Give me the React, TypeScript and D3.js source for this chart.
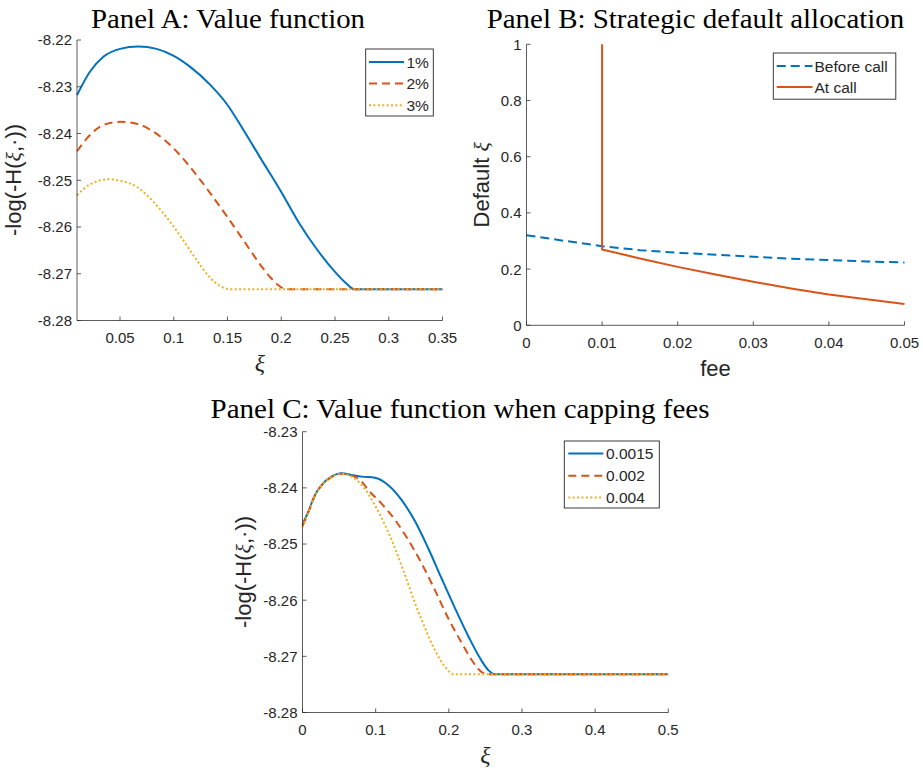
import React from 'react';
import * as d3 from 'd3';

// ---------- Panel A data ----------
const aX1 = [0.01, 0.022, 0.0345, 0.05, 0.067, 0.084, 0.1, 0.115, 0.134, 0.15, 0.165, 0.18, 0.2, 0.217, 0.2326, 0.25, 0.2606, 0.268, 0.35];
const aY1 = [-8.2318, -8.2268, -8.2236, -8.2219, -8.2214, -8.2219, -8.2234, -8.2257, -8.2296, -8.2339, -8.2393, -8.245, -8.2525, -8.2593, -8.2646, -8.2696, -8.2721, -8.2733, -8.2733];
const aX2 = [0.01, 0.019, 0.0345, 0.05, 0.0655, 0.081, 0.1, 0.115, 0.1308, 0.15, 0.168, 0.18, 0.19, 0.2, 0.204, 0.35];
const aY2 = [-8.2438, -8.2411, -8.2382, -8.2375, -8.2379, -8.2396, -8.2432, -8.2471, -8.2518, -8.2579, -8.2639, -8.2679, -8.2708, -8.2729, -8.2733, -8.2733];
const aX3 = [0.01, 0.022, 0.04, 0.05, 0.0655, 0.081, 0.0966, 0.109, 0.1214, 0.134, 0.143, 0.153, 0.35];
const aY3 = [-8.2532, -8.2509, -8.2498, -8.2501, -8.2514, -8.2546, -8.2589, -8.2629, -8.2671, -8.2709, -8.2726, -8.2733, -8.2733];
const aNames = ['1%', '2%', '3%'];
const aXTicks = [0.05, 0.1, 0.15, 0.2, 0.25, 0.3, 0.35];
const aXTickLabels = ['0.05', '0.1', '0.15', '0.2', '0.25', '0.3', '0.35'];
const aYTicks = [-8.28, -8.27, -8.26, -8.25, -8.24, -8.23, -8.22];
const aYTickLabels = ['-8.28', '-8.27', '-8.26', '-8.25', '-8.24', '-8.23', '-8.22'];

// ---------- Panel B data ----------
const bFee = [0, 0.005, 0.01, 0.015, 0.02, 0.025, 0.03, 0.035, 0.04, 0.045, 0.05];
const bBefore = [0.3207, 0.3006, 0.2817, 0.2675, 0.258, 0.251, 0.2438, 0.2367, 0.232, 0.2272, 0.2237];
const bFeeAt = [0.01, 0.01, 0.015, 0.02, 0.025, 0.03, 0.035, 0.04, 0.045, 0.05];
const bAt = [1.0, 0.27, 0.238, 0.208, 0.181, 0.155, 0.131, 0.11, 0.0923, 0.0757];
const bNames = ['Before call', 'At call'];
const bXTicks = [0, 0.01, 0.02, 0.03, 0.04, 0.05];
const bXTickLabels = ['0', '0.01', '0.02', '0.03', '0.04', '0.05'];
const bYTicks = [0, 0.2, 0.4, 0.6, 0.8, 1];
const bYTickLabels = ['0', '0.2', '0.4', '0.6', '0.8', '1'];

// ---------- Panel C data ----------
const cX1 = [0, 0.0078, 0.0169, 0.026, 0.0397, 0.0534, 0.067, 0.081, 0.099, 0.117, 0.1356, 0.154, 0.172, 0.19, 0.2087, 0.227, 0.243, 0.2543, 0.2635, 0.5];
const cY1 = [-8.2465, -8.2443, -8.2413, -8.2395, -8.238, -8.2374, -8.2377, -8.238, -8.2382, -8.2395, -8.2422, -8.246, -8.2508, -8.2561, -8.2615, -8.2665, -8.2704, -8.2725, -8.2732, -8.2732];
const cX2 = [0, 0.0078, 0.0169, 0.026, 0.0397, 0.0534, 0.067, 0.081, 0.09, 0.108, 0.1265, 0.1447, 0.163, 0.181, 0.1995, 0.218, 0.2315, 0.245, 0.254, 0.5];
const cY2 = [-8.2468, -8.2444, -8.2414, -8.2396, -8.2381, -8.2375, -8.2378, -8.2389, -8.2404, -8.2428, -8.2457, -8.2493, -8.2535, -8.2582, -8.2633, -8.2677, -8.2707, -8.2728, -8.2732, -8.2732];
const cX3 = [0, 0.0078, 0.0169, 0.026, 0.0397, 0.0534, 0.067, 0.081, 0.099, 0.1128, 0.1265, 0.14, 0.154, 0.1676, 0.181, 0.195, 0.2064, 0.5];
const cY3 = [-8.247, -8.2445, -8.2414, -8.2396, -8.2381, -8.2375, -8.238, -8.2395, -8.2431, -8.2466, -8.2508, -8.2555, -8.2606, -8.265, -8.2689, -8.2719, -8.2732, -8.2732];
const cNames = ['0.0015', '0.002', '0.004'];
const cXTicks = [0, 0.1, 0.2, 0.3, 0.4, 0.5];
const cXTickLabels = ['0', '0.1', '0.2', '0.3', '0.4', '0.5'];
const cYTicks = [-8.28, -8.27, -8.26, -8.25, -8.24, -8.23];
const cYTickLabels = ['-8.28', '-8.27', '-8.26', '-8.25', '-8.24', '-8.23'];

const BLUE = '#0072BD';
const RED = '#D95319';
const YEL = '#EDB120';
const AX = '#262626';
const SANS = '"Liberation Sans", Arial, sans-serif';
const SERIF = '"Liberation Serif", "Times New Roman", serif';

const STYLES = [
  { color: BLUE, dash: undefined as string | undefined },
  { color: RED, dash: '8,5' },
  { color: YEL, dash: '2,2.4' },
];

type Series = { xs: number[]; ys: number[]; color: string; dash?: string; name: string };

function Axes(props: {
  x0: number; x1: number; y0: number; y1: number;
  xDomain: [number, number]; yDomain: [number, number];
  xTicks: number[]; xTickLabels: string[];
  yTicks: number[]; yTickLabels: string[];
  series: Series[]; curve: any;
  legend: { bx: number; by: number; bw: number; bh: number; lx1: number; lx2: number; tx: number; ys: number[] };
}) {
  const { x0, x1, y0, y1 } = props;
  const xs = d3.scaleLinear().domain(props.xDomain).range([x0, x1]);
  const ys = d3.scaleLinear().domain(props.yDomain).range([y1, y0]);
  const lg = props.legend;
  return (
    <g>
      {props.series.map((s, i) => {
        const pts: [number, number][] = s.xs.map((x, j) => [x, s.ys[j]]);
        const line = d3.line<[number, number]>().x(d => xs(d[0])).y(d => ys(d[1])).curve(props.curve);
        return (
          <path key={i} d={line(pts) || ''} fill="none" stroke={s.color} strokeWidth={2}
            strokeDasharray={s.dash} strokeLinejoin="round" />
        );
      })}
      <line x1={x0} x2={x1} y1={y1} y2={y1} stroke={AX} strokeOpacity={0.75} strokeWidth={1} />
      <line x1={x0} x2={x0} y1={y0} y2={y1} stroke={AX} strokeOpacity={0.75} strokeWidth={1} />
      {props.xTicks.map((t, i) => (
        <g key={'xt' + i}>
          <line x1={xs(t)} x2={xs(t)} y1={y1} y2={y1 - 4} stroke={AX} strokeOpacity={0.75} />
          <text x={xs(t)} y={y1 + 22.5} textAnchor="middle" fontFamily={SANS} fontSize={15} fill={AX}>
            {props.xTickLabels[i]}
          </text>
        </g>
      ))}
      {props.yTicks.map((t, i) => (
        <g key={'yt' + i}>
          <line x1={x0} x2={x0 + 4} y1={ys(t)} y2={ys(t)} stroke={AX} strokeOpacity={0.75} />
          <text x={x0 - 5} y={ys(t)} dy="0.36em" textAnchor="end" fontFamily={SANS} fontSize={15} fill={AX}>
            {props.yTickLabels[i]}
          </text>
        </g>
      ))}
      <rect x={lg.bx} y={lg.by} width={lg.bw} height={lg.bh} fill="#fff" stroke={AX} strokeWidth={0.9} />
      {props.series.map((s, i) => (
        <g key={'lg' + i}>
          <line x1={lg.lx1} x2={lg.lx2} y1={lg.ys[i]} y2={lg.ys[i]} stroke={s.color} strokeWidth={2}
            strokeDasharray={s.dash} />
          <text x={lg.tx} y={lg.ys[i]} dy="0.36em" fontFamily={SANS} fontSize={15.5} fill={AX}>{s.name}</text>
        </g>
      ))}
    </g>
  );
}

function ValueLabel({ x, y }: { x: number; y: number }) {
  return (
    <text transform={`translate(${x},${y}) rotate(-90)`} textAnchor="middle" fontFamily={SANS} fontSize={22} fill={AX}>
      -log(-H(<tspan fontFamily={SERIF} fontStyle="italic">ξ</tspan>,·))
    </text>
  );
}

export default function App() {
  const aSeries: Series[] = [
    { xs: aX1, ys: aY1, ...STYLES[0], name: aNames[0] },
    { xs: aX2, ys: aY2, ...STYLES[1], name: aNames[1] },
    { xs: aX3, ys: aY3, ...STYLES[2], name: aNames[2] },
  ];
  const bSeries: Series[] = [
    { xs: bFee, ys: bBefore, color: BLUE, dash: '9,5', name: bNames[0] },
    { xs: bFeeAt, ys: bAt, color: RED, dash: undefined, name: bNames[1] },
  ];
  const cSeries: Series[] = [
    { xs: cX1, ys: cY1, ...STYLES[0], name: cNames[0] },
    { xs: cX2, ys: cY2, ...STYLES[1], name: cNames[1] },
    { xs: cX3, ys: cY3, ...STYLES[2], name: cNames[2] },
  ];
  return (
    <svg width={923} height={775} style={{ position: 'absolute', left: 0, top: 0, background: '#fff' }}>
      <rect x={0} y={0} width={923} height={775} fill="#fff" />
      {/* Panel A */}
      <text x={91} y={28} fontFamily={SERIF} fontSize={28} fill="#000" textLength={274} lengthAdjust="spacingAndGlyphs">
        Panel A: Value function
      </text>
      <Axes x0={77} x1={442.5} y0={40} y1={320.5} xDomain={[0.01, 0.35]} yDomain={[-8.28, -8.22]}
        xTicks={aXTicks} xTickLabels={aXTickLabels} yTicks={aYTicks} yTickLabels={aYTickLabels}
        series={aSeries} curve={d3.curveMonotoneX}
        legend={{ bx: 365.7, by: 49, bw: 67.6, bh: 67, lx1: 369, lx2: 404, tx: 406.5, ys: [62, 83.5, 105.3] }} />
      <ValueLabel x={21} y={180} />
      <text x={259.8} y={371} textAnchor="middle" fontFamily={SERIF} fontStyle="italic" fontSize={24} fill={AX}>ξ</text>

      {/* Panel B */}
      <text x={486.7} y={28} fontFamily={SERIF} fontSize={28} fill="#000" textLength={417.6} lengthAdjust="spacingAndGlyphs">
        Panel B: Strategic default allocation
      </text>
      <Axes x0={526.5} x1={904.5} y0={44.3} y1={325.3} xDomain={[0, 0.05]} yDomain={[0, 1]}
        xTicks={bXTicks} xTickLabels={bXTickLabels} yTicks={bYTicks} yTickLabels={bYTickLabels}
        series={bSeries} curve={d3.curveLinear}
        legend={{ bx: 773.3, by: 53, bw: 122.5, bh: 46.2, lx1: 776.7, lx2: 812.5, tx: 814.5, ys: [66, 87] }} />
      <text transform={`translate(489,184.8) rotate(-90)`} textAnchor="middle" fontFamily={SANS} fontSize={22} fill={AX}>
        Default <tspan fontFamily={SERIF} fontStyle="italic">ξ</tspan>
      </text>
      <text x={715.5} y={376} textAnchor="middle" fontFamily={SANS} fontSize={22} fill={AX}>fee</text>

      {/* Panel C */}
      <text x={210.5} y={418} fontFamily={SERIF} fontSize={27} fill="#000" textLength={499} lengthAdjust="spacingAndGlyphs">
        Panel C: Value function when capping fees
      </text>
      <Axes x0={302.5} x1={668.3} y0={431.7} y1={712.5} xDomain={[0, 0.5]} yDomain={[-8.28, -8.23]}
        xTicks={cXTicks} xTickLabels={cXTickLabels} yTicks={cYTicks} yTickLabels={cYTickLabels}
        series={cSeries} curve={d3.curveMonotoneX}
        legend={{ bx: 564.3, by: 441, bw: 95, bh: 67, lx1: 568.3, lx2: 603.3, tx: 606, ys: [453.5, 475.7, 497.5] }} />
      <ValueLabel x={251} y={572} />
      <text x={485.4} y={763} textAnchor="middle" fontFamily={SERIF} fontStyle="italic" fontSize={24} fill={AX}>ξ</text>
    </svg>
  );
}
